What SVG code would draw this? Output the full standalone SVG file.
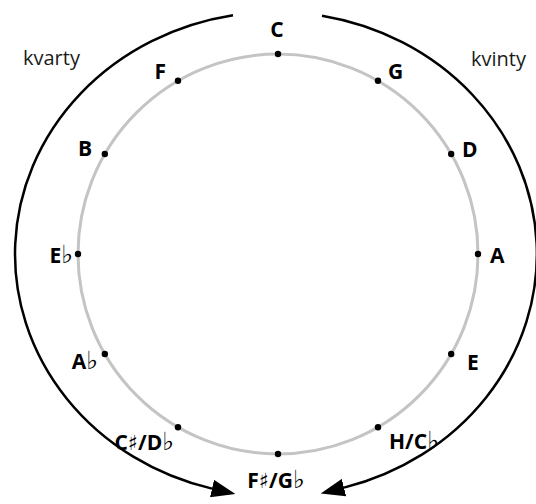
<svg xmlns="http://www.w3.org/2000/svg" width="536" height="504" viewBox="0 0 536 504">
  <style>
    .ring { fill: none; stroke: #c4c4c4; stroke-width: 3; }
    .dot { fill: #000; }
    .key { font-family: "Open Sans", "DejaVu Sans", sans-serif; font-weight: bold; font-size: 21px; fill: #000; }
    .acc { font-family: "DejaVu Sans", sans-serif; font-weight: normal; font-size: 25px; }
    .cap { font-family: "Open Sans", "DejaVu Sans", sans-serif; font-size: 20px; fill: #1a1a1a; }
    .flow { fill: none; stroke: #000; stroke-width: 2.5; }
    .l { text-anchor: end; }
    .r { text-anchor: start; }
    .m { text-anchor: middle; }
  </style>
  <defs>
    <marker id="head" markerUnits="userSpaceOnUse" markerWidth="24" markerHeight="18" viewBox="0 0 24 18" refX="0" refY="9" orient="auto">
      <path d="M0,0 L24,9 L0,18 z" fill="#000"/>
    </marker>
  </defs>

  <rect width="536" height="504" fill="#fff"/>

  <!-- circle of keys -->
  <circle class="ring" cx="278" cy="254" r="200"/>

  <!-- direction arcs: fourths anticlockwise, fifths clockwise -->
  <g id="connectors">
    <path id="arc-kvarty" class="flow" d="M233,15.3 A261,242 0 0 0 212,488.6" marker-end="url(#head)"/>
    <path id="arc-kvinty" class="flow" d="M322,15.8 A261,242 0 0 1 344,487.6" marker-end="url(#head)"/>
  </g>

  <g id="label-kvarty"><text class="cap" x="23" y="65">kvarty</text></g>
  <g id="label-kvinty"><text class="cap" x="471" y="66">kvinty</text></g>

  <!-- keys, 30 degrees apart -->
  <g id="key-C"><circle class="dot" cx="278" cy="54" r="3.2"/><text class="key m" x="277" y="37">C</text></g>
  <g id="key-G"><circle class="dot" cx="378" cy="80.8" r="3.2"/><text class="key r" x="388" y="79">G</text></g>
  <g id="key-D"><circle class="dot" cx="451.2" cy="154" r="3.2"/><text class="key r" x="462" y="157">D</text></g>
  <g id="key-A"><circle class="dot" cx="478" cy="254" r="3.2"/><text class="key r" x="490" y="263">A</text></g>
  <g id="key-E"><circle class="dot" cx="451.2" cy="354" r="3.2"/><text class="key r" x="467" y="370">E</text></g>
  <g id="key-H"><circle class="dot" cx="378" cy="427.2" r="3.2"/><text class="key r" x="389" y="449">H/C<tspan class="acc">♭</tspan></text></g>
  <g id="key-Fis"><circle class="dot" cx="278" cy="454" r="3.2"/><text class="key m" x="276" y="488">F♯/G<tspan class="acc">♭</tspan></text></g>
  <g id="key-Cis"><circle class="dot" cx="178" cy="427.2" r="3.2"/><text class="key l" x="174" y="450">C♯/D<tspan class="acc">♭</tspan></text></g>
  <g id="key-As"><circle class="dot" cx="104.8" cy="354" r="3.2"/><text class="key l" x="98" y="369">A<tspan class="acc">♭</tspan></text></g>
  <g id="key-Es"><circle class="dot" cx="78" cy="254" r="3.2"/><text class="key l" x="73" y="263">E<tspan class="acc">♭</tspan></text></g>
  <g id="key-B"><circle class="dot" cx="104.8" cy="154" r="3.2"/><text class="key l" x="92" y="156">B</text></g>
  <g id="key-F"><circle class="dot" cx="178" cy="80.8" r="3.2"/><text class="key l" x="166" y="79">F</text></g>
</svg>
